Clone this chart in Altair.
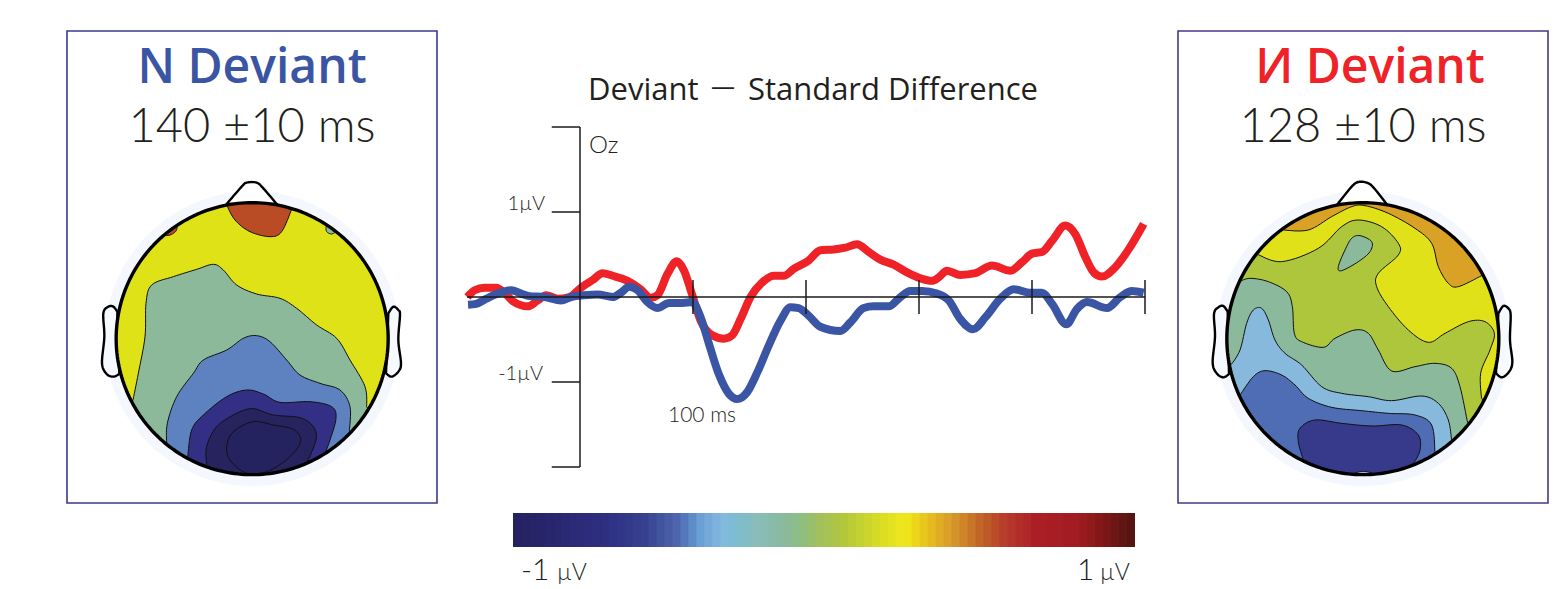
import math
import altair as alt
import pandas as pd

# ---------- ERP curves (ms, microvolts) ----------
red_ms = [-99.7,-93.2,-84.4,-74.1,-66.8,-59.4,-46.2,-37.4,-30,-19.7,-9.4,0.9,11.2,20,28.8,42.1,53.8,62.6,68.5,77.4,85.6,92.1,99.4,106.8,117.1,127.4,134.7,142.1,150.9,161.2,171.5,180.3,189.1,
          202.4,212.7,224.5,234.8,245.1,255.5,265.8,277.6,289.4,301.2,311.5,317.4,324.8,336.6,349.9,364.6,380.8,391.2,400,408.9,417.7,429.5,438.3,447.2,454.6,461.9,473.7,485.5,498.8]
red_uv = [0,.08,.11,.11,.05,-.05,-.11,-.04,.02,-.02,0,.11,.20,.28,.25,.19,.09,-.01,.02,.27,.42,.31,.02,-.28,-.45,-.49,-.45,-.26,0,.17,.25,.25,.33,
          .43,.55,.56,.58,.62,.53,.44,.38,.29,.22,.19,.23,.31,.26,.28,.37,.31,.41,.51,.53,.66,.84,.74,.47,.29,.24,.35,.56,.86]
blue_ms = [-99.1,-91.8,-82.9,-72.6,-60.9,-52.1,-44.7,-31.5,-16.8,-7.9,3.8,15.6,28.8,36.2,43.5,50.9,59.7,68.5,78.8,90.6,99.4,106.8,114.1,122.9,131.8,139.1,147.9,156.8,167.1,177.4,186.2,193.5,
           202.4,212.7,230.4,239.2,251,259.9,273.2,282,292.3,302.7,315.9,326.3,336.6,347.8,358.7,372,383.8,398.5,408.8,417.7,430.4,439.8,448.7,466.4,478.2,488.5,498.8]
blue_uv = [-.09,-.08,-.02,.04,.08,.04,.01,0,-.04,0,.02,.03,0,.05,.12,.08,-.06,-.13,-.07,-.07,-.06,-.24,-.55,-.91,-1.14,-1.2,-1.12,-.89,-.57,-.28,-.12,-.13,
           -.22,-.35,-.40,-.30,-.13,-.11,-.11,-.02,.07,.07,.04,-.04,-.26,-.38,-.24,-.02,.09,.05,.05,-.08,-.32,-.14,-.06,-.13,0,.07,.05]
time_ticks = [100,200,300,400,500]
volt_ticks = [2,1,-1,-2]

# ---------- colour bar stops ----------
bar_stops = [-1,-.70,-.58,-.47,-.40,-.328,-.21,-.12,-.024,.066,.16,.26,.328,.42,.512,.59,.68,.814,.906,1]
bar_colors = ["#23215f","#2f2f83","#36408f","#4f66ae","#6a9fd4","#84b8e0","#8bbcb8","#8db99a","#a0bf5f","#b3c73a","#d3d927","#f0e81a","#e8c31c","#d4952a","#bf5f28","#b5382a","#ac1e25","#a11c22","#7b1717","#4f1410"]
bar_bins = [round(-1 + i * 2 / 78, 4) for i in range(79)]

# ---------- scalp maps: contours (map units = 1/3 px) ----------
L_base = "#e0e218"
L_regions = [
    ("#b94c25", [(500,105),(525,150),(570,185),(630,200),(665,185),(695,118)], False),
    ("#b94c25", [(305,197),(330,195),(348,183),(352,165)], False),
    ("#8cbba0", [(798,170),(800,185),(815,192),(828,185)], False),
    ("#8bb99a", [(218,695),(235,610),(255,500),(258,400),(275,345),(340,320),(410,298),(460,283),(490,300),(530,345),(590,372),(660,385),(710,415),(770,465),(830,505),(870,570),(915,650),(920,715)], False),
    ("#5e82bf", [(320,822),(322,760),(350,680),(400,610),(430,570),(500,540),(550,505),(590,497),(630,515),(680,570),(720,615),(780,640),(840,660),(870,710),(868,785)], False),
    ("#332f85", [(383,862),(395,780),(430,735),(500,680),(560,660),(610,672),(660,697),(750,695),(815,710),(828,745),(810,810),(795,850)], False),
    ("#26235f", [(440,888),(440,830),(470,770),(530,730),(580,716),(640,735),(720,743),(760,770),(768,810),(740,880)], False),
]
L_closed = [("#25235f", [(500,830),(520,785),(580,755),(640,765),(700,778),(722,810),(700,850),(650,890),(600,910),(550,905),(510,870)])]
L_nose = [(500,102),(545,50),(560,38),(590,38),(610,55),(650,102)]
L_ear_a = [(172,425),(160,410),(145,410),(130,430),(133,500),(126,580),(140,612),(160,620),(178,612)]
L_ear_b = [(985,430),(1000,410),(1015,420),(1020,435),(1015,510),(1023,580),(1015,605),(995,620),(978,610)]

R_base = "#e0e119"
R_regions = [
    ("#d9a227", [(322,180),(400,180),(470,140),(530,110),(570,107),(640,130),(720,175),(770,220),(790,290),(820,340),(850,350),(918,318)], False),
    ("#adc63c", [(245,252),(320,275),(430,235),(500,170),(550,150),(620,170),(670,220),(670,255),(610,310),(605,350),(640,410),(700,480),(760,517),(810,490),(880,455),(930,455),(958,490),(945,540),(917,610),(920,690)], True),
    ("#8bb99b", [(193,335),(225,325),(280,335),(335,365),(352,410),(358,490),(380,515),(445,532),(480,505),(540,480),(580,490),(610,540),(650,603),(720,590),(780,580),(830,595),(855,650),(878,760)], False),
    ("#86b9dc", [(168,585),(195,540),(215,460),(235,420),(260,415),(280,450),(300,510),(330,550),(380,585),(440,650),(500,670),(580,680),(650,692),(740,678),(790,700),(820,750),(830,812)], False),
    ("#4f6db4", [(195,675),(235,620),(270,602),(320,615),(360,645),(400,685),(470,712),(560,722),(640,730),(720,735),(770,765),(780,850)], False),
    ("#373a8b", [(385,870),(370,815),(375,775),(420,750),(500,760),(590,768),(680,765),(730,795),(735,840),(715,880),(690,897)], False),
    ("#86b9dc", [(530,912),(565,904),(600,912)], False),
]
R_closed = [("#8bb99b", [(555,197),(590,215),(585,245),(550,275),(500,302),(490,290),(510,240),(530,205)])]
R_nose = [(488,102),(530,50),(550,36),(575,38),(595,52),(635,102)]
R_ear_a = [(158,425),(145,408),(130,412),(117,432),(120,500),(113,578),(125,610),(145,622),(162,612)]
R_ear_b = [(970,430),(985,408),(1000,415),(1007,435),(1005,510),(1012,578),(1000,608),(980,622),(963,610)]

# ---------- page frame: reference pixels ----------
PX0, PX1, PY0, PY1 = 8, 1555, 8, 589
fig_x = alt.Scale(domain=[PX0, PX1], nice=False, zero=False)
fig_y = alt.Scale(domain=[PY1, PY0], nice=False, zero=False)
ms_x = alt.Scale(domain=[(PX0-580)/1.13, (PX1-580)/1.13], nice=False, zero=False)
uv_y = alt.Scale(domain=[(297-PY1)/85, (297-PY0)/85], nice=False, zero=False)
bar_x = alt.Scale(domain=[-1-(513-PX0)*2/622, 1+(PX1-1135)*2/622], nice=False, zero=False)
PROJ = dict(type="identity", scale=1/3, translate=[-PX0, -PY0])


def spline(pts, closed=False, n=8):
    out = []
    m = len(pts)
    rng = range(m) if closed else range(m - 1)
    for i in rng:
        if closed:
            p0, p1, p2, p3 = pts[(i-1) % m], pts[i], pts[(i+1) % m], pts[(i+2) % m]
        else:
            p0, p1, p2, p3 = pts[max(i-1, 0)], pts[i], pts[i+1], pts[min(i+2, m-1)]
        for k in range(n):
            t = k / n
            out.append([
                0.5*(2*p1[a] + (p2[a]-p0[a])*t + (2*p0[a]-5*p1[a]+4*p2[a]-p3[a])*t*t + (3*p1[a]-p0[a]-3*p2[a]+p3[a])*t**3)
                for a in (0, 1)])
    if not closed:
        out.append(list(pts[-1]))
    return out


def circle(cx, cy, r, n=240):
    return [[cx + r*math.cos(2*math.pi*i/n), cy + r*math.sin(2*math.pi*i/n)] for i in range(n+1)]


def region(pts, cx, cy, r, long_way):
    line = spline(pts)
    a0 = math.atan2(line[0][1]-cy, line[0][0]-cx)
    a1 = math.atan2(line[-1][1]-cy, line[-1][0]-cx)
    d = (a0 - a1 + math.pi) % (2*math.pi) - math.pi
    if long_way:
        d = d - math.copysign(2*math.pi, d)
    steps = max(2, int(abs(d) * 40))
    line[0] = [cx + r*math.cos(a0), cy + r*math.sin(a0)]
    line[-1] = [cx + r*math.cos(a1), cy + r*math.sin(a1)]
    arc = [[cx + r*math.cos(a1 + d*i/steps), cy + r*math.sin(a1 + d*i/steps)] for i in range(1, steps+1)]
    return line + arc


def scalp(crop_x, crop_y, cx, cy, base, regions, closed, nose, ear_a, ear_b):
    r = 408

    def feature(ring, fill):
        ring = [[p[0] + 3*crop_x, p[1] + 3*crop_y] for p in ring]
        if ring[0] != ring[-1]:
            ring.append(ring[0])
        return {"type": "Feature", "properties": {"fill": fill}, "geometry": {"type": "Polygon", "coordinates": [ring]}}

    def shape(feats, **kw):
        return (alt.Chart(alt.Data(values=feats))
                .mark_geoshape(strokeJoin="round", **kw)
                .encode(fill=alt.Fill("properties.fill:N", scale=None))
                .project(**PROJ))

    halo = shape([feature(circle(cx, cy, 442), "#f4f7fd")], strokeWidth=0)
    parts = shape([feature(spline(nose), "#ffffff"),
                   feature(spline(ear_a), "#f6f9fd"),
                   feature(spline(ear_b), "#f6f9fd")], stroke="#000000", strokeWidth=2.4)
    fills = [feature(circle(cx, cy, r), base)]
    fills += [feature(region(p, cx, cy, r, lw), c) for c, p, lw in regions]
    fills += [feature(spline(p, closed=True), c) for c, p in closed]
    maps = shape(fills, stroke="#111111", strokeWidth=1)
    rim = (alt.Chart(alt.Data(values=[feature(circle(cx, cy, r), "#000000")]))
           .mark_geoshape(stroke="#000000", strokeWidth=3.4, fillOpacity=0, strokeJoin="round")
           .project(**PROJ))
    return [halo, parts, maps, rim]


def rules(rows, color="#1a1a1a", width=1.5):
    return (alt.Chart(pd.DataFrame(rows, columns=["a", "b", "c", "d"]))
            .mark_rule(color=color, strokeWidth=width)
            .encode(x=alt.X("a:Q", scale=ms_x, axis=None), x2="b:Q",
                    y=alt.Y("c:Q", scale=uv_y, axis=None), y2="d:Q"))


def curve(ms, uv, color):
    return (alt.Chart(pd.DataFrame({"ms": ms, "uv": uv}))
            .mark_line(color=color, strokeWidth=8, interpolate="monotone", strokeCap="butt", strokeJoin="round")
            .encode(x=alt.X("ms:Q", scale=ms_x, axis=None), y=alt.Y("uv:Q", scale=uv_y, axis=None), order="ms:Q"))


def text(rows):
    layers = []
    for t, x, y, font, size, weight, color, align in rows:
        layers.append(alt.Chart(pd.DataFrame({"t": [t], "x": [x], "y": [y]}))
                      .mark_text(font=font, fontSize=size, fontWeight=weight, color=color, align=align, baseline="alphabetic")
                      .encode(x=alt.X("x:Q", scale=fig_x, axis=None), y=alt.Y("y:Q", scale=fig_y, axis=None), text="t:N"))
    return layers


boxes = pd.DataFrame({"x": [67, 1178], "x2": [437, 1548], "y": [31, 31], "y2": [503, 503], "c": ["#3a3a8c", "#4b3689"]})
box_layer = (alt.Chart(boxes).mark_rect(fill="#ffffff", strokeWidth=1.6)
             .encode(x=alt.X("x:Q", scale=fig_x, axis=None), x2="x2:Q",
                     y=alt.Y("y:Q", scale=fig_y, axis=None), y2="y2:Q",
                     stroke=alt.Stroke("c:N", scale=None)))

bar_df = pd.DataFrame({"a": bar_bins[:-1], "b": [min(q + .004, 1) for q in bar_bins[1:]], "m": [(p+q)/2 for p, q in zip(bar_bins[:-1], bar_bins[1:])]})
bar_layer = (alt.Chart(bar_df).mark_rect()
             .encode(x=alt.X("a:Q", scale=bar_x, axis=None), x2="b:Q",
                     y=alt.value(513-PY0), y2=alt.value(547-PY0),
                     color=alt.Color("m:Q", scale=alt.Scale(domain=bar_stops, range=bar_colors), legend=None)))

layers = [box_layer]
layers += scalp(60, 170, 576.5, 506, L_base, L_regions, L_closed, L_nose, L_ear_a, L_ear_b)
layers += scalp(1175, 170, 563.5, 506, R_base, R_regions, R_closed, R_nose, R_ear_a, R_ear_b)
layers += [curve(red_ms, red_uv, "#ee2227"), curve(blue_ms, blue_uv, "#3b55a5")]
axis_rows = [[0, 0, 2, -2], [-100, 500, 0, 0]]
axis_rows += [[-25, 0, v, v] for v in volt_ticks]
axis_rows += [[t, t, .2, -.2] for t in time_ticks]
layers.append(rules(axis_rows))
layers.append(bar_layer)
dark = "#231f20"
layers += text([
    ("N Deviant", 252, 83, "Open Sans", 48, 600, "#3b55a5", "center"),
    ("140 ±10 ms", 252, 142, "Lato", 47, 300, dark, "center"),
    ("И Deviant", 1370, 83, "Open Sans", 48, 600, "#ee2227", "center"),
    ("128 ±10 ms", 1363, 142, "Lato", 47, 300, dark, "center"),
    ("Deviant", 588, 100, "Open Sans", 31, 400, dark, "left"),
    ("—", 723, 95, "Open Sans", 24, 400, dark, "center"),
    ("Standard Difference", 1038, 100, "Open Sans", 31, 400, dark, "right"),
    ("Oz", 589, 153, "Lato", 24, 300, dark, "left"),
    ("1µV", 545, 210, "Lato", 20, 300, dark, "right"),
    ("-1µV", 543, 380, "Lato", 20, 300, dark, "right"),
    ("100 ms", 702, 422, "Lato", 21, 300, dark, "center"),
    ("-1", 521, 580, "Lato", 30, 300, dark, "left"),
    ("µV", 557, 580, "Lato", 23, 300, dark, "left"),
    ("1", 1077, 580, "Lato", 30, 300, dark, "left"),
    ("µV", 1100, 580, "Lato", 23, 300, dark, "left"),
])

chart = (alt.layer(*layers)
         .resolve_scale(x="independent", y="independent", color="independent")
         .properties(width=PX1-PX0, height=PY1-PY0, padding=0, autosize=alt.AutoSizeParams(type="none"), background="#ffffff")
         .configure_view(stroke=None))
chart.save("out.html", embed_options={"renderer": "svg", "actions": False})
